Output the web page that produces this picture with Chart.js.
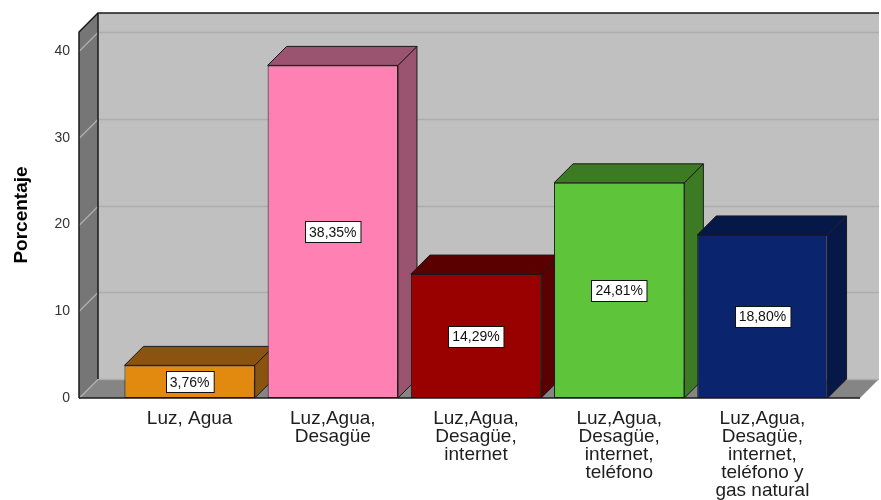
<!DOCTYPE html>
<html>
<head>
<meta charset="utf-8">
<style>
  html, body { margin: 0; padding: 0; background: #fff; }
</style>
</head>
<body>
<canvas id="serviciosChart" width="881" height="500"></canvas>
<script src="https://cdn.jsdelivr.net/npm/chart.js"></script>
<script>
// datos
const categorias = [
    ['Luz, Agua'],
    ['Luz,Agua,', 'Desagüe'],
    ['Luz,Agua,', 'Desagüe,', 'internet'],
    ['Luz,Agua,', 'Desagüe,', 'internet,', 'teléfono'],
    ['Luz,Agua,', 'Desagüe,', 'internet,', 'teléfono y', 'gas natural']
];
const porcentajes = [3.76, 38.35, 14.29, 24.81, 18.80];
const yTicks = [0, 10, 20, 30, 40];
const yMax = 42.2;

// colores: cara frontal y caras laterales/superior
const frontColors = ['#e28a10', '#ff80b2', '#990000', '#5ec43a', '#0a246e'];
const sideColors = ['#8a5310', '#9b5470', '#5a0000', '#3c7a24', '#061848'];

const DEPTH = 19;

function poly(ctx, pts, fill, stroke) {
    ctx.beginPath();
    ctx.moveTo(pts[0][0], pts[0][1]);
    for (let i = 1; i < pts.length; i++) ctx.lineTo(pts[i][0], pts[i][1]);
    ctx.closePath();
    if (fill) { ctx.fillStyle = fill; ctx.fill(); }
    if (stroke) { ctx.strokeStyle = stroke; ctx.lineWidth = 1; ctx.stroke(); }
}

const walls3d = {
    id: 'walls3d',
    beforeDraw(chart) {
        const ctx = chart.ctx, ca = chart.chartArea, ys = chart.scales.y;
        const D = DEPTH;
        const L = ca.left - 39, R = ca.right + 26, T = ca.top, B = ca.bottom;
        ctx.save();
        // pared del fondo
        poly(ctx, [[L + D, T - D], [R + D, T - D], [R + D, B - D], [L + D, B - D]], '#c0c0c0');
        // pared izquierda
        poly(ctx, [[L, T], [L + D, T - D], [L + D, B - D], [L, B]], '#767676');
        // piso
        poly(ctx, [[L, B], [L + D, B - D], [R + D, B - D], [R, B]], '#858585');
        // lineas de grilla
        ctx.strokeStyle = '#adadad';
        ctx.lineWidth = 1.5;
        yTicks.forEach(v => {
            const py = Math.round(ys.getPixelForValue(v)) + 0.5;
            ctx.beginPath();
            ctx.moveTo(L, py);
            ctx.lineTo(L + D, py - D);
            ctx.lineTo(R + D, py - D);
            ctx.stroke();
        });
        // bordes
        ctx.strokeStyle = '#1a1a1a';
        ctx.lineWidth = 1.5;
        ctx.beginPath();
        ctx.moveTo(L, B);
        ctx.lineTo(L, T);
        ctx.lineTo(L + D, T - D);
        ctx.lineTo(R + D, T - D);
        ctx.moveTo(L + D, T - D);
        ctx.lineTo(L + D, B - D);
        ctx.moveTo(L, B);
        ctx.lineTo(R, B);
        ctx.stroke();
        ctx.restore();
    },
    beforeDatasetsDraw(chart) {
        const ctx = chart.ctx, D = DEPTH;
        const meta = chart.getDatasetMeta(0);
        ctx.save();
        meta.data.forEach((bar, i) => {
            const p = bar.getProps(['x', 'y', 'base', 'width'], true);
            const l = p.x - p.width / 2, r = p.x + p.width / 2;
            const t = p.y, b = p.base;
            poly(ctx, [[r, t], [r + D, t - D], [r + D, b - D], [r, b]], sideColors[i], '#1a1a1a');
            poly(ctx, [[l, t], [l + D, t - D], [r + D, t - D], [r, t]], sideColors[i], '#1a1a1a');
        });
        ctx.restore();
    },
    afterDatasetsDraw(chart) {
        const ctx = chart.ctx;
        const meta = chart.getDatasetMeta(0);
        ctx.save();
        ctx.font = '14px "Liberation Sans", Arial, sans-serif';
        ctx.textAlign = 'center';
        ctx.textBaseline = 'middle';
        meta.data.forEach((bar, i) => {
            const p = bar.getProps(['x', 'y', 'base'], true);
            const txt = porcentajes[i].toFixed(2).replace('.', ',') + '%';
            const w = ctx.measureText(txt).width + 8, h = 21;
            const cy = (p.y + p.base) / 2;
            const bx = Math.round(p.x - w / 2) + 0.5, by = Math.round(cy - h / 2) + 0.5;
            ctx.fillStyle = '#ffffff';
            ctx.fillRect(bx, by, w, h);
            ctx.strokeStyle = '#111';
            ctx.lineWidth = 1;
            ctx.strokeRect(bx, by, w, h);
            ctx.fillStyle = '#111';
            ctx.fillText(txt, p.x, cy + 1);
        });
        ctx.restore();
    }
};

document.addEventListener('DOMContentLoaded', function() {
    const ctx = document.getElementById('serviciosChart').getContext('2d');
    const serviciosChart = new Chart(ctx, {
        type: 'bar',
        data: {
            labels: categorias,
            datasets: [{
                label: 'Porcentaje',
                data: porcentajes,
                backgroundColor: frontColors,
                borderColor: '#1a1a1a',
                borderWidth: 1,
                borderSkipped: false,
                categoryPercentage: 1.0,
                barPercentage: 0.91
            }]
        },
        options: {
            responsive: false,
            animation: false,
            layout: { padding: { top: 32, right: 47, left: 0, bottom: 0 } },
            plugins: {
                legend: { display: false },
                tooltip: { enabled: false }
            },
            scales: {
                x: {
                    grid: { display: false, drawTicks: false },
                    border: { display: false },
                    afterFit: (axis) => { axis.height = 102; },
                    ticks: {
                        autoSkip: false,
                        maxRotation: 0,
                        padding: 12,
                        color: '#1e1e1e',
                        font: { family: '"Liberation Sans", Arial, sans-serif', size: 19, lineHeight: 0.95 }
                    }
                },
                y: {
                    min: 0,
                    max: yMax,
                    afterFit: (axis) => {
                        axis.width = 118;
                        axis.paddingTop = 0;
                        axis.paddingBottom = 0;
                    },
                    afterBuildTicks: (axis) => { axis.ticks = yTicks.map(v => ({ value: v })); },
                    grid: { display: false, drawTicks: false },
                    border: { display: false },
                    ticks: {
                        padding: 48,
                        color: '#333',
                        font: { family: '"Liberation Sans", Arial, sans-serif', size: 14 }
                    },
                    title: {
                        display: true,
                        text: 'Porcentaje',
                        color: '#000',
                        padding: { top: 10, bottom: 0 },
                        font: { family: '"Liberation Sans", Arial, sans-serif', size: 19, weight: 'bold' }
                    }
                }
            }
        },
        plugins: [walls3d]
    });
});
</script>
</body>
</html>
